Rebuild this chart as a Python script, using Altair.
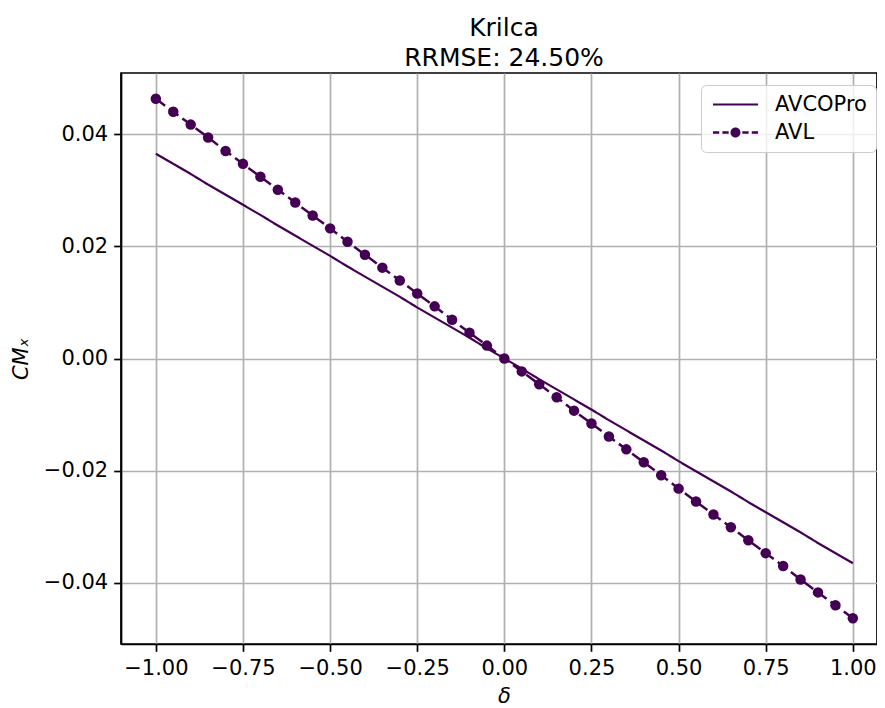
import altair as alt
import pandas as pd

delta = [-1.00, -0.95, -0.90, -0.85, -0.80, -0.75, -0.70, -0.65, -0.60, -0.55,
         -0.50, -0.45, -0.40, -0.35, -0.30, -0.25, -0.20, -0.15, -0.10, -0.05,
         0.00, 0.05, 0.10, 0.15, 0.20, 0.25, 0.30, 0.35, 0.40, 0.45,
         0.50, 0.55, 0.60, 0.65, 0.70, 0.75, 0.80, 0.85, 0.90, 0.95, 1.00]

avl = [0.0463, 0.0440, 0.0417, 0.0394, 0.0370, 0.0347, 0.0324, 0.0301, 0.0278, 0.0255,
       0.0232, 0.0208, 0.0185, 0.0162, 0.0139, 0.0116, 0.0093, 0.0069, 0.0046, 0.0023,
       0.0000, -0.0023, -0.0046, -0.0069, -0.0093, -0.0116, -0.0139, -0.0162, -0.0185, -0.0208,
       -0.0232, -0.0255, -0.0278, -0.0301, -0.0324, -0.0347, -0.0370, -0.0394, -0.0417, -0.0440, -0.0463]

avcopro = [0.0365, 0.0347, 0.0329, 0.0310, 0.0292, 0.0274, 0.0256, 0.0237, 0.0219, 0.0201,
           0.0183, 0.0164, 0.0146, 0.0128, 0.0110, 0.0091, 0.0073, 0.0055, 0.0037, 0.0018,
           0.0000, -0.0018, -0.0037, -0.0055, -0.0073, -0.0091, -0.0110, -0.0128, -0.0146, -0.0164,
           -0.0183, -0.0201, -0.0219, -0.0237, -0.0256, -0.0274, -0.0292, -0.0310, -0.0329, -0.0347, -0.0365]

series_names = ["AVCOPro", "AVL"]
x_ticks = [-1.0, -0.75, -0.5, -0.25, 0.0, 0.25, 0.5, 0.75, 1.0]
y_ticks = [-0.04, -0.02, 0.0, 0.02, 0.04]

df = pd.concat([
    pd.DataFrame({"delta": delta, "value": avcopro, "series": "AVCOPro"}),
    pd.DataFrame({"delta": delta, "value": avl, "series": "AVL"}),
])

COLOR = "#440154"
FONT = "DejaVu Sans"

x_enc = alt.X("delta:Q",
              scale=alt.Scale(domain=[-1.1, 1.0693], nice=False, zero=False),
              axis=alt.Axis(values=x_ticks, format=".2f", title="δ",
                            titleFontStyle="italic", titleFontWeight="normal",
                            titleFontSize=21, titleX=383, titleY=58,
                            titleBaseline="alphabetic", titleAngle=0))
y_enc = alt.Y("value:Q",
              scale=alt.Scale(domain=[-0.0509, 0.0509], nice=False, zero=False),
              axis=alt.Axis(values=y_ticks, format=".2f", title="CMₓ",
                            titleFontStyle="italic", titleFontWeight="normal",
                            titleFontSize=21, titleX=-100, titleY=285.5,
                            titleAngle=270, titleBaseline="middle", titleAlign="center"))

# legend glyphs drawn as filled shapes: solid bar for AVCOPro,
# dashed bar with a dot for AVL
line_glyph = "M-4.3,-0.21H4.3V0.21H-4.3Z"
avl_glyph = ("M-4.3,-0.24H-3.1V0.24H-4.3Z"
             "M-2.5,-0.24H-1.3V0.24H-2.5Z"
             "M1.3,-0.24H2.5V0.24H1.3Z"
             "M3.1,-0.24H4.3V0.24H3.1Z"
             "M0.95,0A0.95,0.95,0,1,1,-0.95,0A0.95,0.95,0,1,1,0.95,0Z")

legend = alt.Legend(
    title=None, orient="none", legendX=580, legendY=12,
    labelFontSize=21, labelFont=FONT, labelColor="black",
    symbolSize=110, symbolStrokeWidth=2.4, symbolStrokeColor=COLOR,
    symbolFillColor=COLOR, symbolOffset=15,
    labelOffset=29, padding=9, rowPadding=6,
    fillColor="rgba(255,255,255,0.8)", strokeColor="#cccccc", cornerRadius=5,
)

lines = alt.Chart(df).mark_line(color=COLOR).encode(
    x=x_enc,
    y=y_enc,
    strokeDash=alt.StrokeDash("series:N",
                              scale=alt.Scale(domain=series_names, range=[[1, 0], [11.5, 5]]),
                              legend=legend),
    strokeWidth=alt.StrokeWidth("series:N",
                                scale=alt.Scale(domain=series_names, range=[2.2, 2.5]),
                                legend=None),
    detail="series:N",
)

points = alt.Chart(df).transform_filter(alt.datum.series == "AVL").mark_circle(
    color=COLOR, size=110, opacity=1
).encode(x="delta:Q", y="value:Q")

# carrier of the legend glyph shapes only (no rows drawn)
legend_carrier = alt.Chart(df).transform_filter(alt.datum.delta > 5).mark_point(
    filled=False, color=COLOR, fill=COLOR, stroke=COLOR, strokeWidth=2.4,
    size=110, opacity=1
).encode(
    x="delta:Q", y="value:Q",
    shape=alt.Shape("series:N",
                    scale=alt.Scale(domain=series_names, range=[line_glyph, avl_glyph]),
                    legend=legend),
)

chart = alt.layer(lines, points, legend_carrier).properties(
    width=756, height=571,
    autosize=alt.AutoSizeParams(type="none"),
    padding={"left": 113, "top": 65, "right": 0, "bottom": 63},
    title=alt.TitleParams(text=["Krilca", "RRMSE: 24.50%"], fontSize=25, font=FONT,
                          fontWeight="normal", color="black", anchor="middle",
                          offset=2, dx=5, lineHeight=30),
).configure(font=FONT).configure_axis(
    labelFont=FONT, titleFont=FONT, labelFontSize=21, labelColor="black",
    titleColor="black", domainColor="black", domainWidth=1.7,
    tickColor="black", tickWidth=1.7, tickSize=7.3, labelPadding=6,
    grid=True, gridColor="#b0b0b0", gridWidth=1.7,
).configure_view(stroke="black", strokeWidth=1.7)

chart.save("out.html", embed_options={"renderer": "svg", "actions": False})
